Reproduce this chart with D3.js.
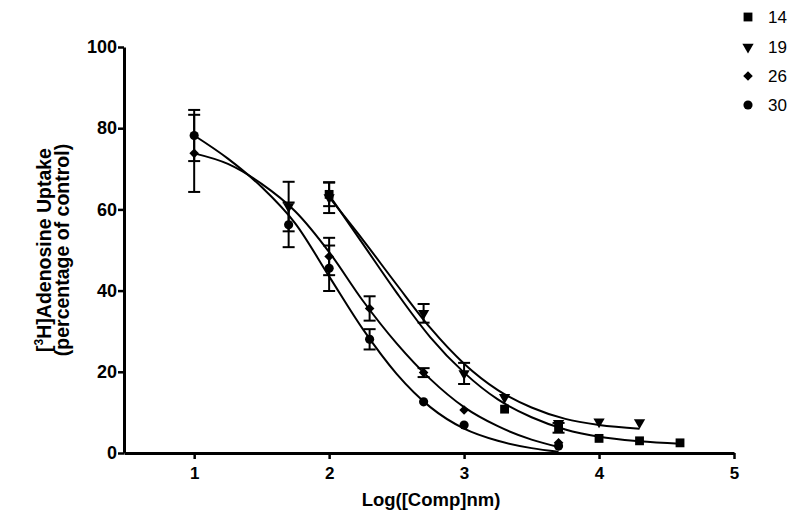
<!DOCTYPE html>
<html>
<head>
<meta charset="utf-8">
<script src="https://cdnjs.cloudflare.com/ajax/libs/d3/7.8.5/d3.min.js"></script>
<style>
  body { margin: 0; background: #fff; }
  text { font-family: "Liberation Sans", Arial, sans-serif; }
</style>
</head>
<body>
<div id="chart"></div>
<script>
// measured points (x = log conc, y = % of control, e = SEM)
var x14 = [2, 3.3, 3.7, 4, 4.3, 4.6];
var y14 = [63.7, 10.8, 6.2, 3.6, 3.0, 2.5];
var e14 = [2.9, 0, 1.2, 0, 0, 0];

var x19 = [1.7, 2, 2.7, 3, 3.3, 3.7, 4, 4.3];
var y19 = [60.7, 62.9, 34.4, 19.6, 13.7, 7.3, 7.7, 7.5];
var e19 = [6.1, 3.8, 2.3, 2.6, 0, 0, 0, 0];

var x26 = [1, 2, 2.3, 2.7, 3, 3.7];
var y26 = [73.8, 48.4, 35.6, 19.8, 10.6, 2.5];
var e26 = [9.5, 4.6, 3.0, 1.1, 0, 0];

var x30 = [1, 1.7, 2, 2.3, 2.7, 3, 3.7];
var y30 = [78.2, 56.2, 45.5, 28.0, 12.6, 6.9, 1.7];
var e30 = [6.3, 5.5, 5.6, 2.5, 0, 0, 0];

// fitted curves
var fx14 = [2, 2.25, 2.5, 2.75, 3, 3.25, 3.5, 3.75, 4, 4.3, 4.6];
var fy14 = [63.5, 51.5, 39.5, 28.5, 19.8, 13.2, 8.8, 5.8, 4.0, 2.9, 2.3];
var fx19 = [2, 2.25, 2.5, 2.75, 3, 3.25, 3.5, 3.75, 4, 4.3];
var fy19 = [63.0, 52.5, 41.5, 30.8, 22.0, 15.5, 11.2, 8.4, 6.9, 6.0];
var fx26 = [1, 1.25, 1.5, 1.75, 2, 2.25, 2.5, 2.75, 3, 3.25, 3.5, 3.7];
var fy26 = [73.8, 71.2, 66.3, 59.5, 49.5, 37.5, 27.0, 18.2, 11.3, 6.6, 3.3, 1.5];
var fx30 = [1, 1.25, 1.5, 1.75, 2, 2.25, 2.5, 2.75, 3, 3.25, 3.5, 3.7];
var fy30 = [78.2, 72.5, 65.5, 56.5, 43.5, 30.5, 19.5, 11.3, 6.0, 3.0, 1.2, 0.3];

var seriesNames = ["14", "19", "26", "30"];
var xTicks = [1, 2, 3, 4, 5];
var yTicks = [0, 20, 40, 60, 80, 100];

var width = 800, height = 521;

var svg = d3.select("#chart").append("svg")
    .attr("width", width)
    .attr("height", height);

var x = d3.scaleLinear().domain([0.48, 5]).range([124, 734]);
var y = d3.scaleLinear().domain([0, 100]).range([453, 47]);

// symbols for each series
var symbols = {
    "14": { type: d3.symbolSquare, size: 78, rot: 0 },
    "19": { type: d3.symbolTriangle, size: 55, rot: 180 },
    "26": { type: d3.symbolSquare, size: 46, rot: 45 },
    "30": { type: d3.symbolCircle, size: 66, rot: 0 }
};

var series = [
    { name: "14", xs: x14, ys: y14, es: e14, fx: fx14, fy: fy14 },
    { name: "19", xs: x19, ys: y19, es: e19, fx: fx19, fy: fy19 },
    { name: "26", xs: x26, ys: y26, es: e26, fx: fx26, fy: fy26 },
    { name: "30", xs: x30, ys: y30, es: e30, fx: fx30, fy: fy30 }
];

// Y axis
var yAxis = svg.append("g")
    .attr("transform", "translate(124,0)")
    .call(d3.axisLeft(y).tickValues(yTicks).tickSize(6).tickSizeOuter(0).tickFormat(d3.format("d")));
yAxis.select(".domain").attr("stroke-width", 3);
yAxis.selectAll(".tick line").attr("stroke-width", 2.5);
yAxis.selectAll("text")
    .attr("font-size", 18)
    .attr("font-weight", "bold")
    .attr("x", -7)
    .attr("fill", "#000");

// X axis
var xAxis = svg.append("g")
    .attr("transform", "translate(0,453)")
    .call(d3.axisBottom(x).tickValues(xTicks).tickSize(6).tickSizeOuter(0).tickFormat(d3.format("d")));
xAxis.select(".domain").attr("stroke-width", 3);
xAxis.selectAll(".tick line").attr("stroke-width", 2.5);
xAxis.selectAll("text")
    .attr("font-size", 17)
    .attr("font-weight", "bold")
    .attr("y", 14)
    .attr("fill", "#000");

// axis titles
svg.append("text")
    .attr("x", 431)
    .attr("y", 506)
    .attr("text-anchor", "middle")
    .attr("font-size", 18.5)
    .attr("font-weight", "bold")
    .text("Log([Comp]nm)");

var yTitle = svg.append("text")
    .attr("transform", "translate(51,250) rotate(-90)")
    .attr("text-anchor", "middle")
    .attr("font-size", 19.5)
    .attr("font-weight", "bold");
yTitle.append("tspan").text("[");
yTitle.append("tspan").attr("dy", -8).attr("font-size", 12).text("3");
yTitle.append("tspan").attr("dy", 8).text("H]Adenosine Uptake");

svg.append("text")
    .attr("transform", "translate(69,250) rotate(-90)")
    .attr("text-anchor", "middle")
    .attr("font-size", 19.5)
    .attr("font-weight", "bold")
    .text("(percentage of control)");

// fitted curves
var line = d3.line()
    .x(function(d) { return x(d[0]); })
    .y(function(d) { return y(d[1]); })
    .curve(d3.curveMonotoneX);

svg.append("g")
    .selectAll("path")
    .data(series)
    .enter().append("path")
    .attr("d", function(s) { return line(s.fx.map(function(v, i) { return [v, s.fy[i]]; })); })
    .attr("fill", "none")
    .attr("stroke", "#000")
    .attr("stroke-width", 2);

// error bars
series.forEach(function(s) {
    var pts = s.xs.map(function(v, i) { return { x: v, y: s.ys[i], e: s.es[i] }; })
                  .filter(function(d) { return d.e > 0; });
    var g = svg.append("g").attr("stroke", "#000").attr("stroke-width", 2);
    g.selectAll(".bar").data(pts).enter().append("line")
        .attr("x1", function(d) { return x(d.x); })
        .attr("x2", function(d) { return x(d.x); })
        .attr("y1", function(d) { return y(d.y - d.e); })
        .attr("y2", function(d) { return y(d.y + d.e); });
    g.selectAll(".capTop").data(pts).enter().append("line")
        .attr("x1", function(d) { return x(d.x) - 6; })
        .attr("x2", function(d) { return x(d.x) + 6; })
        .attr("y1", function(d) { return y(d.y + d.e); })
        .attr("y2", function(d) { return y(d.y + d.e); });
    g.selectAll(".capBot").data(pts).enter().append("line")
        .attr("x1", function(d) { return x(d.x) - 6; })
        .attr("x2", function(d) { return x(d.x) + 6; })
        .attr("y1", function(d) { return y(d.y - d.e); })
        .attr("y2", function(d) { return y(d.y - d.e); });
});

// markers
series.forEach(function(s) {
    var sym = symbols[s.name];
    svg.append("g").selectAll("path")
        .data(s.xs.map(function(v, i) { return [v, s.ys[i]]; }))
        .enter().append("path")
        .attr("d", d3.symbol().type(sym.type).size(sym.size))
        .attr("transform", function(d) {
            return "translate(" + x(d[0]) + "," + y(d[1]) + ") rotate(" + sym.rot + ")";
        })
        .attr("fill", "#000");
});

// legend
var legendY = [17, 47, 76, 105];
var legend = svg.append("g");
legend.selectAll("path")
    .data(seriesNames)
    .enter().append("path")
    .attr("d", function(d) { return d3.symbol().type(symbols[d].type).size(symbols[d].size)(); })
    .attr("transform", function(d, i) {
        return "translate(748," + legendY[i] + ") rotate(" + symbols[d].rot + ")";
    })
    .attr("fill", "#000");
legend.selectAll("text")
    .data(seriesNames)
    .enter().append("text")
    .attr("x", 768)
    .attr("y", function(d, i) { return legendY[i] + 6; })
    .attr("font-size", 17)
    .text(function(d) { return d; });
</script>
</body>
</html>
